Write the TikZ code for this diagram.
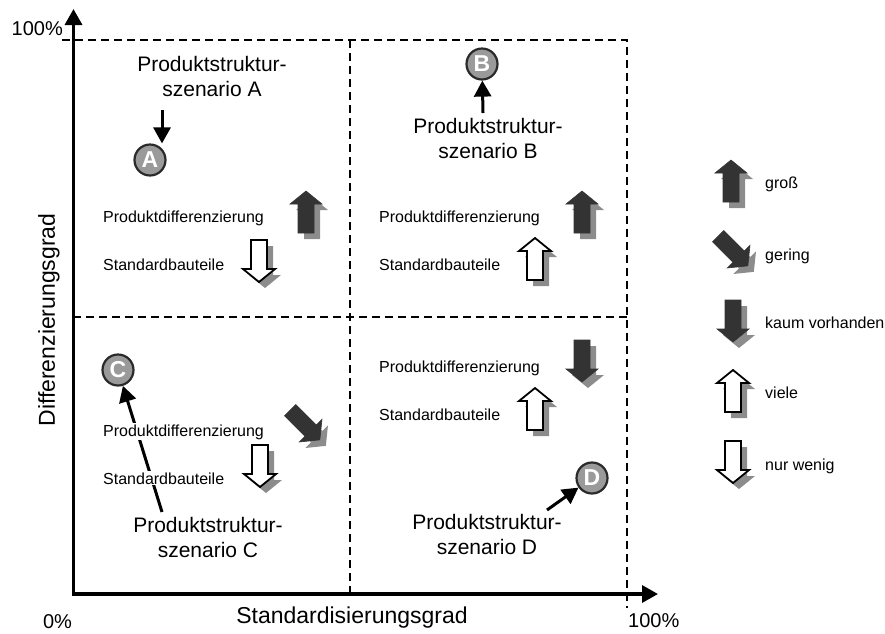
\documentclass[tikz,border=0pt]{standalone}
\usepackage{fontspec}
\setmainfont{Liberation Sans}
\usetikzlibrary{arrows.meta}
\definecolor{darkfill}{HTML}{333333}
\definecolor{shadowgray}{HTML}{8C8C8C}
\definecolor{markfill}{HTML}{9A9A9A}
\definecolor{markline}{HTML}{2A2A2A}

% block arrow with drop shadow: #1,#2 centre, #3 rotation, #4 style
\newcommand{\blockarrow}[4]{%
  \begin{scope}[shift={(#1+6,#2+6)}, rotate=#3]
    \fill[shadowgray] (0,-21) -- (16,-8) -- (8,-8) -- (8,21) -- (-8,21) -- (-8,-8) -- (-16,-8) -- cycle;
  \end{scope}
  \begin{scope}[shift={(#1,#2)}, rotate=#3]
    \path[#4] (0,-21) -- (16,-8) -- (8,-8) -- (8,21) -- (-8,21) -- (-8,-8) -- (-16,-8) -- cycle;
  \end{scope}}

\begin{document}
\begin{tikzpicture}[x=1pt, y=-1pt,
  grid/.style={line width=2.8pt, dash pattern=on 8pt off 5pt},
  axis/.style={line width=3.4pt, {Triangle[length=16pt,width=17pt]}-{Triangle[length=16pt,width=17pt]}},
  pointer/.style={line width=3pt, -{Triangle[length=16pt,width=17pt]}},
  marker/.style={circle, fill=markfill, draw=markline, line width=2.2pt, minimum size=31pt,
    inner sep=0pt, text=white, font=\bfseries\fontsize{23}{23}\selectfont},
  scenario/.style={align=center, anchor=base, inner sep=0pt, font=\fontsize{21}{24.5}\selectfont},
  note/.style={anchor=base west, inner sep=1pt, fill=white, font=\fontsize{16}{19}\selectfont},
  legendtext/.style={anchor=base west, inner sep=0pt, font=\fontsize{16}{19}\selectfont},
  axislabel/.style={inner sep=0pt, font=\fontsize{23}{26}\selectfont},
  percent/.style={inner sep=0pt, font=\fontsize{20}{24}\selectfont},
  darkarrow/.style={fill=darkfill, draw=darkfill, line width=0.6pt, line join=miter},
  lightarrow/.style={fill=white, draw=black, line width=1.8pt, line join=miter}]

\useasboundingbox (0,0) rectangle (885,633);

% quadrant borders
\draw[grid] (62,40) -- (627,40) -- (627,608);
\draw[grid] (350,40) -- (350,594);
\draw[grid] (73,317) -- (627,317);

% axes
\draw[axis] (73.5,9) -- (73.5,594) -- (658,594);
\node[percent, anchor=base east] (ytop) at (63,35) {100\%};
\node[percent, anchor=base] (xzero) at (57.5,628) {0\%};
\node[percent, anchor=base west] (xtop) at (628,627) {100\%};
\node[axislabel, anchor=base] (xlabel) at (352,623) {Standardisierungsgrad};
\node[axislabel, rotate=90] (ylabel) at (49,320) {Differenzierungsgrad};

% scenario markers and their labels (base = baseline of the second line)
\node[marker] (A) at (150,160) {A};
\node[marker] (B) at (482,64) {B};
\node[marker] (C) at (118,370) {C};
\node[marker] (D) at (592,478) {D};

\node[scenario] (labA) at (212,96) {Produktstruktur-\\szenario A};
\node[scenario] (labB) at (488,158) {Produktstruktur-\\szenario B};
\node[scenario] (labC) at (208,557) {Produktstruktur-\\szenario C};
\node[scenario] (labD) at (487,554) {Produktstruktur-\\szenario D};

\coordinate (tailA) at (162,110);
\coordinate (tailB) at (483,113);
\coordinate (tailC) at (162,512);
\coordinate (tailD) at (547,510);

\draw[pointer] (tailA) -- (tailA |- A.north);
\draw[pointer] (tailB) -- (B);
\draw[pointer] (tailC) -- (C);
\draw[pointer] (tailD) -- (D);

% quadrant texts
\node[note] (pdA) at (102,222) {Produktdifferenzierung};
\node[note] (sbA) at (102,270) {Standardbauteile};
\node[note] (pdB) at (378,222) {Produktdifferenzierung};
\node[note] (sbB) at (378,270) {Standardbauteile};
\node[note] (pdC) at (102,436) {Produktdifferenzierung};
\node[note] (sbC) at (102,484) {Standardbauteile};
\node[note] (pdD) at (378,372) {Produktdifferenzierung};
\node[note] (sbD) at (378,420) {Standardbauteile};

% quadrant block arrows
\blockarrow{306}{212}{0}{darkarrow}
\blockarrow{259}{261}{180}{lightarrow}
\blockarrow{582}{212}{0}{darkarrow}
\blockarrow{535}{259}{0}{lightarrow}
\blockarrow{305}{425}{-135}{darkarrow}
\blockarrow{260}{466}{180}{lightarrow}
\blockarrow{582}{361}{180}{darkarrow}
\blockarrow{535}{409}{0}{lightarrow}

% legend
\blockarrow{731}{181}{0}{darkarrow}
\blockarrow{733}{251}{-135}{darkarrow}
\blockarrow{733}{321}{180}{darkarrow}
\blockarrow{733}{391}{0}{lightarrow}
\blockarrow{733}{462}{180}{lightarrow}
\node[legendtext] (lg1) at (765,188) {groß};
\node[legendtext] (lg2) at (765,260) {gering};
\node[legendtext] (lg3) at (765,328) {kaum vorhanden};
\node[legendtext] (lg4) at (765,398) {viele};
\node[legendtext] (lg5) at (765,470) {nur wenig};

\end{tikzpicture}
\end{document}
